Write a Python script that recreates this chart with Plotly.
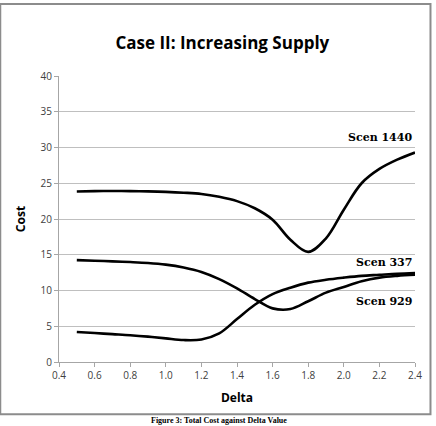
import plotly.graph_objects as go

delta = [0.5, 0.6, 0.7, 0.8, 0.9, 1.0, 1.1, 1.2, 1.3, 1.4, 1.5, 1.6, 1.7, 1.8, 1.9, 2.0, 2.1, 2.2, 2.3, 2.4]
scen_1440 = [23.85, 23.9, 23.92, 23.9, 23.87, 23.8, 23.68, 23.5, 23.1, 22.5, 21.5, 19.9, 17.1, 15.4, 17.3, 21.3, 25.0, 27.0, 28.3, 29.3]
scen_337 = [14.25, 14.17, 14.08, 13.98, 13.85, 13.62, 13.22, 12.6, 11.6, 10.3, 8.8, 7.5, 7.4, 8.5, 9.7, 10.5, 11.3, 11.8, 12.05, 12.2]
scen_929 = [4.2, 4.05, 3.9, 3.75, 3.55, 3.3, 3.07, 3.15, 4.0, 6.0, 8.0, 9.5, 10.4, 11.1, 11.5, 11.8, 12.05, 12.2, 12.35, 12.45]

x_ticks = [0.4, 0.6, 0.8, 1.0, 1.2, 1.4, 1.6, 1.8, 2.0, 2.2, 2.4]
y_ticks = [0, 5, 10, 15, 20, 25, 30, 35, 40]

labels = ["Scen 1440", "Scen 337", "Scen 929"]
label_y = [31.4, 13.9, 8.5]

fig = go.Figure()
for name, ys in zip(labels, [scen_1440, scen_337, scen_929]):
    fig.add_trace(go.Scatter(x=delta, y=ys, mode="lines", name=name,
                             line=dict(color="black", width=2.6, shape="spline", smoothing=1.0)))

for txt, ly in zip(labels, label_y):
    fig.add_annotation(x=2.395, y=ly, xref="x", yref="y", text="<b>" + txt + "</b>",
                       showarrow=False, xanchor="right", yanchor="middle",
                       font=dict(family="DejaVu Serif", size=11, color="black"))

# outer frame
fig.add_shape(type="rect", xref="paper", yref="paper", x0=-0.165, x1=1.0435, y0=-0.183, y1=1.2517,
              line=dict(color="#8c8c8c", width=2), fillcolor="rgba(0,0,0,0)", layer="below")

fig.add_annotation(x=0.45, y=-0.2225, xref="paper", yref="paper",
                   text="<b>Figure 3: Total Cost against Delta Value</b>", showarrow=False,
                   xanchor="center", yanchor="bottom", borderpad=0,
                   font=dict(family="Liberation Serif", size=8, color="black"))

fig.update_layout(
    width=436, height=426,
    margin=dict(l=59, r=21, t=76, b=64),
    paper_bgcolor="white", plot_bgcolor="white",
    showlegend=False,
    title=dict(text="<b>Case II: Increasing Supply</b>", x=0.51, xanchor="center",
               y=1 - 43 / 426, yanchor="middle",
               font=dict(family="Open Sans", size=17, color="black")),
    font=dict(family="Open Sans", color="#404040", size=10),
)
fig.update_xaxes(range=[0.4, 2.4], tickvals=x_ticks, ticktext=[f"{v:.1f}" for v in x_ticks],
                 showgrid=False, showline=True, linecolor="#a6a6a6", linewidth=1,
                 ticks="outside", ticklen=4, tickcolor="#a6a6a6", zeroline=False,
                 tickfont=dict(size=10, color="#404040"),
                 title=dict(text="<b>Delta</b>", font=dict(size=12, color="black"), standoff=12))
fig.update_yaxes(range=[0, 40], tickvals=y_ticks, showgrid=True, gridcolor="#bfbfbf", gridwidth=1,
                 showline=True, linecolor="#a6a6a6", linewidth=1,
                 ticks="outside", ticklen=4, tickcolor="#a6a6a6", zeroline=False,
                 tickfont=dict(size=10, color="#404040"),
                 title=dict(text="<b>Cost</b>", font=dict(size=12, color="black"), standoff=12))

fig.write_html("out.html")
